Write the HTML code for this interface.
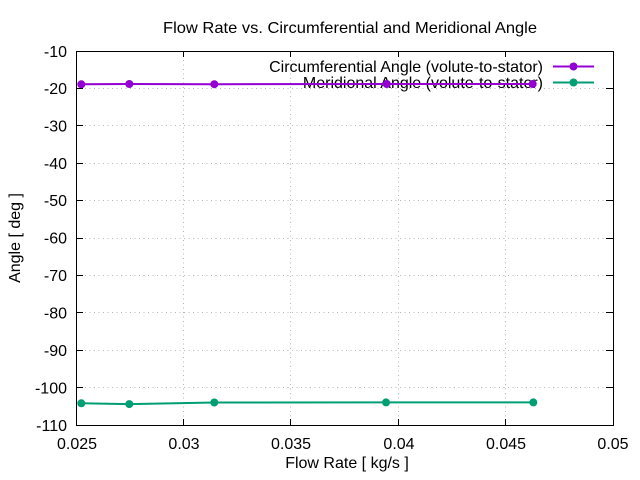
<!DOCTYPE html>
<html><head><meta charset="utf-8"><style>
html,body{margin:0;padding:0;background:#fff;}
svg{display:block;}
text{font-family:"Liberation Sans",Arial,sans-serif;font-size:16px;fill:#000;}
</style></head><body>
<svg width="640" height="480" viewBox="0 0 640 480" xmlns="http://www.w3.org/2000/svg">
<rect width="640" height="480" fill="#fff"/>
<!-- grid -->
<g stroke="#b8b8b8" stroke-width="1" stroke-dasharray="1,3.5" fill="none">
<line x1="183.5" y1="51" x2="183.5" y2="425"/>
<line x1="290.5" y1="51" x2="290.5" y2="425"/>
<line x1="398.5" y1="51" x2="398.5" y2="425"/>
<line x1="505.5" y1="51" x2="505.5" y2="425"/>
<line x1="76" y1="88.5" x2="613" y2="88.5"/>
<line x1="76" y1="125.5" x2="613" y2="125.5"/>
<line x1="76" y1="163.5" x2="613" y2="163.5"/>
<line x1="76" y1="200.5" x2="613" y2="200.5"/>
<line x1="76" y1="238.5" x2="613" y2="238.5"/>
<line x1="76" y1="275.5" x2="613" y2="275.5"/>
<line x1="76" y1="312.5" x2="613" y2="312.5"/>
<line x1="76" y1="350.5" x2="613" y2="350.5"/>
<line x1="76" y1="387.5" x2="613" y2="387.5"/>
</g>
<!-- border -->
<rect x="76.5" y="51.5" width="537" height="374" fill="none" stroke="#000" stroke-width="1"/>
<!-- ticks -->
<g stroke="#000" stroke-width="1">
<line x1="183.5" y1="425" x2="183.5" y2="419"/><line x1="183.5" y1="51" x2="183.5" y2="57"/>
<line x1="290.5" y1="425" x2="290.5" y2="419"/><line x1="290.5" y1="51" x2="290.5" y2="57"/>
<line x1="398.5" y1="425" x2="398.5" y2="419"/><line x1="398.5" y1="51" x2="398.5" y2="57"/>
<line x1="505.5" y1="425" x2="505.5" y2="419"/><line x1="505.5" y1="51" x2="505.5" y2="57"/>
<line x1="76" y1="88.5" x2="83" y2="88.5"/><line x1="613" y1="88.5" x2="606" y2="88.5"/>
<line x1="76" y1="125.5" x2="83" y2="125.5"/><line x1="613" y1="125.5" x2="606" y2="125.5"/>
<line x1="76" y1="163.5" x2="83" y2="163.5"/><line x1="613" y1="163.5" x2="606" y2="163.5"/>
<line x1="76" y1="200.5" x2="83" y2="200.5"/><line x1="613" y1="200.5" x2="606" y2="200.5"/>
<line x1="76" y1="238.5" x2="83" y2="238.5"/><line x1="613" y1="238.5" x2="606" y2="238.5"/>
<line x1="76" y1="275.5" x2="83" y2="275.5"/><line x1="613" y1="275.5" x2="606" y2="275.5"/>
<line x1="76" y1="312.5" x2="83" y2="312.5"/><line x1="613" y1="312.5" x2="606" y2="312.5"/>
<line x1="76" y1="350.5" x2="83" y2="350.5"/><line x1="613" y1="350.5" x2="606" y2="350.5"/>
<line x1="76" y1="387.5" x2="83" y2="387.5"/><line x1="613" y1="387.5" x2="606" y2="387.5"/>
</g>
<!-- y tick labels -->
<g text-anchor="end">
<text x="67" y="57">-10</text>
<text x="67" y="94">-20</text>
<text x="67" y="131.5">-30</text>
<text x="67" y="169">-40</text>
<text x="67" y="206">-50</text>
<text x="67" y="243.5">-60</text>
<text x="67" y="281">-70</text>
<text x="67" y="318.5">-80</text>
<text x="67" y="356">-90</text>
<text x="67" y="393.5">-100</text>
<text x="67" y="431">-110</text>
</g>
<!-- x tick labels -->
<g text-anchor="middle">
<text x="77" y="449">0.025</text>
<text x="184" y="449">0.03</text>
<text x="291" y="449">0.035</text>
<text x="399" y="449">0.04</text>
<text x="506" y="449">0.045</text>
<text x="613" y="449">0.05</text>
</g>
<!-- titles -->
<text x="350" y="33" text-anchor="middle" textLength="374" lengthAdjust="spacingAndGlyphs">Flow Rate vs. Circumferential and Meridional Angle</text>
<text x="347" y="468" text-anchor="middle">Flow Rate [ kg/s ]</text>
<text transform="translate(20,238) rotate(-90)" text-anchor="middle">Angle [ deg ]</text>
<!-- legend text -->
<g text-anchor="end">
<text x="543" y="72">Circumferential Angle (volute-to-stator)</text>
<text x="543" y="88">Meridional Angle (volute-to-stator)</text>
</g>
<!-- series 1 -->
<g stroke="#9400d3" fill="#9400d3">
<polyline points="81.3,84.3 129.3,84 214.3,84.2 386.7,84 532.7,84" fill="none" stroke-width="2"/>
<circle cx="81.3" cy="84.3" r="4" stroke="none"/>
<circle cx="129.3" cy="84" r="4" stroke="none"/>
<circle cx="214.3" cy="84.2" r="4" stroke="none"/>
<circle cx="386.7" cy="84" r="4" stroke="none"/>
<circle cx="532.7" cy="84" r="4" stroke="none"/>
<line x1="553" y1="66.5" x2="594" y2="66.5" stroke-width="2"/>
<circle cx="573.5" cy="66.5" r="4" stroke="none"/>
</g>
<!-- series 2 -->
<g stroke="#009e73" fill="#009e73">
<polyline points="81.3,403.3 129.3,404.1 214.3,402.5 386,402.4 533.3,402.4" fill="none" stroke-width="2"/>
<circle cx="81.3" cy="403.3" r="4" stroke="none"/>
<circle cx="129.3" cy="404.1" r="4" stroke="none"/>
<circle cx="214.3" cy="402.5" r="4" stroke="none"/>
<circle cx="386" cy="402.4" r="4" stroke="none"/>
<circle cx="533.3" cy="402.4" r="4" stroke="none"/>
<line x1="553" y1="82.5" x2="594" y2="82.5" stroke-width="2"/>
<circle cx="573.5" cy="82.5" r="4" stroke="none"/>
</g>
</svg>
</body></html>
